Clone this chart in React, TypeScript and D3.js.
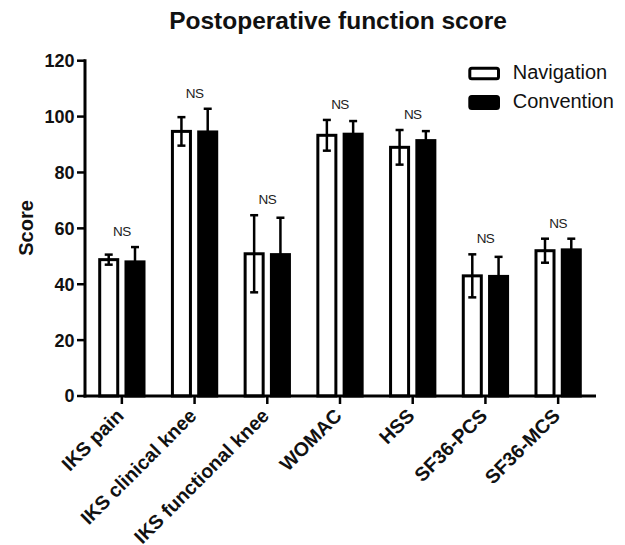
import React from "react";
import * as d3 from "d3";

const categories = ["IKS pain", "IKS clinical knee", "IKS functional knee", "WOMAC", "HSS", "SF36-PCS", "SF36-MCS"];
const seriesNames = ["Navigation", "Convention"];
const navMean = [48.8, 94.7, 50.9, 93.3, 89, 43, 52];
const navSD = [1.8, 5.1, 13.8, 5.5, 6.2, 7.7, 4.3];
const convMean = [48, 94.5, 50.6, 93.7, 91.4, 42.8, 52.3];
const convSD = [5.3, 8.3, 13.2, 4.7, 3.4, 7, 4];
const sigLabels = ["NS", "NS", "NS", "NS", "NS", "NS", "NS"];
const yTicks = [0, 20, 40, 60, 80, 100, 120];

const FONT = "'Liberation Sans', Arial, Helvetica, sans-serif";
const SW = 3;

export default function App() {
  const W = 625, H = 545;
  const x = d3.scaleBand<string>().domain(categories).range([85.5, 594.5]).padding(0);
  const xSub = d3.scaleBand<string>().domain(seriesNames).range([-23.65, 23.65]).paddingInner(0.2);
  const y = d3.scaleLinear().domain([0, 120]).range([396, 60.7]);
  const axisX = 85;
  const baseY = y(0);

  const data = categories.map((c, i) => ({
    cat: c,
    vals: [
      { s: seriesNames[0], m: navMean[i], sd: navSD[i], fill: "#fff" },
      { s: seriesNames[1], m: convMean[i], sd: convSD[i], fill: "#000" },
    ],
    sig: sigLabels[i],
  }));

  const bw = xSub.bandwidth();
  const capW = 8;

  return (
    <svg width={W} height={H} style={{ position: "absolute", left: 0, top: 0 }} fontFamily={FONT}>
      <rect x={0} y={0} width={W} height={H} fill="#fff" />
      <text x={338} y={29} textAnchor="middle" fontSize={24.5} fontWeight="bold" fill="#111">
        Postoperative function score
      </text>

      {/* bars */}
      {data.map((g) => {
        const cx = (x(g.cat) as number) + x.bandwidth() / 2;
        const maxTop = d3.max(g.vals, (v) => v.m + v.sd) as number;
        return (
          <g key={g.cat}>
            {g.vals.map((v) => {
              const left = cx + (xSub(v.s) as number);
              const bcx = left + bw / 2;
              return (
                <g key={v.s}>
                  <rect
                    x={left + SW / 2}
                    y={y(v.m)}
                    width={bw - SW}
                    height={baseY - y(v.m)}
                    fill={v.fill}
                    stroke="#000"
                    strokeWidth={SW}
                  />
                  <line x1={bcx} x2={bcx} y1={y(v.m - v.sd)} y2={y(v.m + v.sd)} stroke="#000" strokeWidth={2.5} />
                  <line x1={bcx - capW / 2} x2={bcx + capW / 2} y1={y(v.m + v.sd)} y2={y(v.m + v.sd)} stroke="#000" strokeWidth={2.5} />
                  <line x1={bcx - capW / 2} x2={bcx + capW / 2} y1={y(v.m - v.sd)} y2={y(v.m - v.sd)} stroke="#000" strokeWidth={2.5} />
                </g>
              );
            })}
            <text x={cx} y={y(maxTop) - 11} textAnchor="middle" fontSize={13.5} letterSpacing={-0.6} fill="#222">
              {g.sig}
            </text>
          </g>
        );
      })}

      {/* y axis */}
      <line x1={axisX} x2={axisX} y1={y(120) - 1.5} y2={baseY + 1.5} stroke="#000" strokeWidth={SW} />
      {yTicks.map((t) => (
        <g key={t}>
          <line x1={axisX - 8} x2={axisX} y1={y(t)} y2={y(t)} stroke="#000" strokeWidth={2.5} />
          <text x={axisX - 10.5} y={y(t)} dy="0.36em" textAnchor="end" fontSize={18} fontWeight="bold" fill="#111">
            {t}
          </text>
        </g>
      ))}
      <text transform={`translate(33,228) rotate(-90)`} textAnchor="middle" fontSize={20} fontWeight="bold" fill="#111">
        Score
      </text>

      {/* x axis */}
      <line x1={axisX - 1.5} x2={596} y1={baseY} y2={baseY} stroke="#000" strokeWidth={SW} />
      {categories.map((c) => {
        const cx = (x(c) as number) + x.bandwidth() / 2;
        return (
          <g key={c}>
            <line x1={cx} x2={cx} y1={baseY} y2={baseY + 8} stroke="#000" strokeWidth={2.5} />
            <text transform={`translate(${cx + 3},${417}) rotate(-45)`} textAnchor="end" fontSize={19.5} fontWeight="bold" fill="#111">
              {c}
            </text>
          </g>
        );
      })}

      {/* legend */}
      <rect x={469.8} y={68.2} width={28.7} height={10.5} rx={2} fill="#fff" stroke="#000" strokeWidth={SW} />
      <text x={512.7} y={79.3} fontSize={20} fill="#111">Navigation</text>
      <rect x={469.8} y={96.5} width={28.7} height={12} rx={2} fill="#000" stroke="#000" strokeWidth={SW} />
      <text x={512.7} y={108.3} fontSize={20} fill="#111">Convention</text>
    </svg>
  );
}
